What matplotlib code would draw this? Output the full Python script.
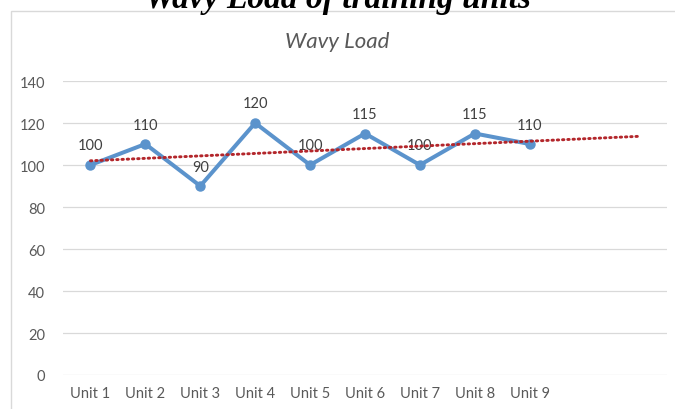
import numpy as np
import matplotlib.pyplot as plt
from matplotlib.patches import Rectangle

# chart data
units = ['Unit 1', 'Unit 2', 'Unit 3', 'Unit 4', 'Unit 5', 'Unit 6', 'Unit 7', 'Unit 8', 'Unit 9']
load = [100, 110, 90, 120, 100, 115, 100, 115, 110]
forecast_periods = 2
y_ticks = [0, 20, 40, 60, 80, 100, 120, 140]

LINE_BLUE = '#5B93CC'
TREND_RED = '#B3262B'
GRID = '#D9D9D9'
TEXT = '#595959'

plt.rcParams['font.family'] = ['Lato', 'DejaVu Sans']

fig = plt.figure(figsize=(6.75, 4.1), dpi=100)

# outer chart frame, running off the right and bottom edges like the screenshot
fig.patches.append(Rectangle((11 / 675, -0.1), 1.0, 1 - 12 / 410 + 0.1,
                             transform=fig.transFigure, fill=False,
                             edgecolor=GRID, linewidth=1.0))

# page heading, cut off at the top
fig.text(0.5, 1 - 8 / 410, 'Wavy Load of training units', ha='center', va='baseline',
         family='Liberation Serif', weight='bold', style='italic', fontsize=24, color='black')

ax = fig.add_axes([63 / 675, 1 - 376 / 410, (667 - 63) / 675, (376 - 82) / 410])

x = np.arange(len(units))
ax.plot(x, load, color=LINE_BLUE, linewidth=2.9, marker='o', markersize=6.5,
        solid_joinstyle='round', zorder=3)

# linear trendline with forward forecast
slope, intercept = np.polyfit(x, load, 1)
xt = np.array([0, len(units) - 1 + forecast_periods])
ax.plot(xt, slope * xt + intercept, color=TREND_RED, linewidth=2.1,
        linestyle=(0, (0.5, 1.3)), dash_capstyle='round', zorder=4)

for xi, v in zip(x, load):
    ax.annotate(str(v), (xi, v), xytext=(0, 9), textcoords='offset points',
                ha='center', va='bottom', fontsize=10.5, color='#404040')

ax.set_xlim(-0.5, len(units) - 1 + forecast_periods + 0.5)
ax.set_ylim(0, 140)
ax.set_yticks(y_ticks)
ax.set_xticks(x)
ax.set_xticklabels(units)
ax.tick_params(axis='both', length=0, labelsize=10.5, labelcolor=TEXT)
ax.tick_params(axis='y', pad=13)
ax.tick_params(axis='x', pad=8)
ax.grid(axis='y', color=GRID, linewidth=0.9)
ax.set_axisbelow(True)
for s in ax.spines.values():
    s.set_visible(False)

fig.text(0.5, 1 - 42 / 410, 'Wavy Load', ha='center', va='center',
         fontsize=16, style='italic', color=TEXT)

fig.savefig('out.png', dpi=100)
